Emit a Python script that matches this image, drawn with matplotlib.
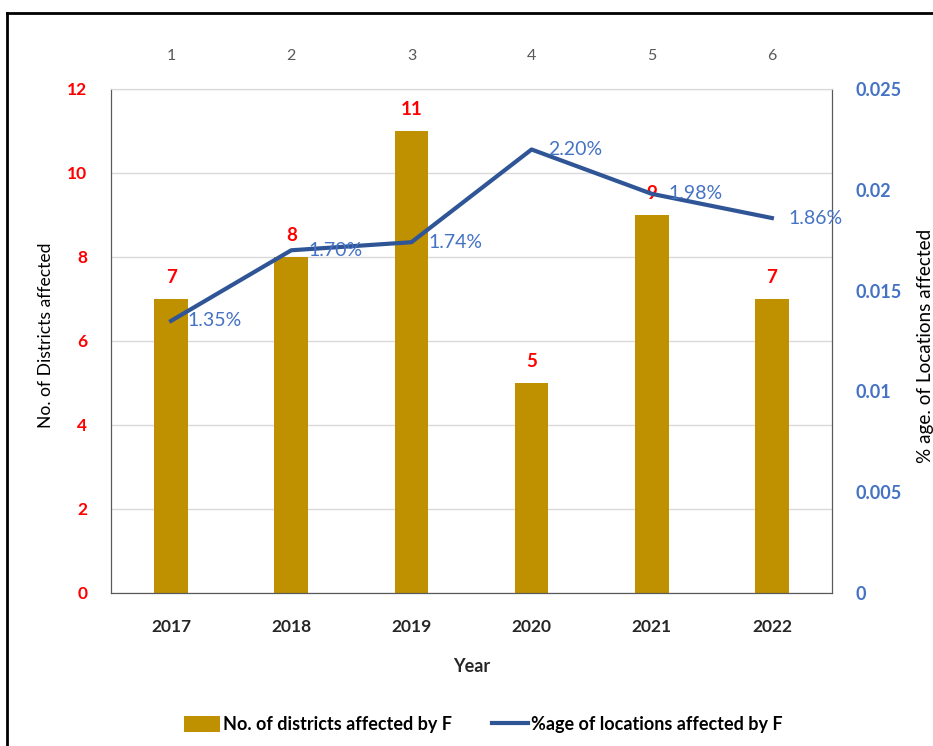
import matplotlib.pyplot as plt
import matplotlib.lines as mlines
import numpy as np

plt.rcParams['font.family'] = ['Lato', 'DejaVu Sans']

years = ['2017', '2018', '2019', '2020', '2021', '2022']
top_ticks = ['1', '2', '3', '4', '5', '6']
districts = [7, 8, 11, 5, 9, 7]
loc_share = [0.0135, 0.0170, 0.0174, 0.0220, 0.0198, 0.0186]
loc_labels = ['1.35%', '1.70%', '1.74%', '2.20%', '1.98%', '1.86%']

bar_col = '#BF9000'
line_col = '#2F5597'
blue_txt = '#4472C4'

fig = plt.figure(figsize=(9.33, 7.46), dpi=100)
ax = fig.add_axes([0.119, 0.2051, 0.7727, 0.6756])
x = np.arange(len(years))

# bars: districts affected
ax.bar(x, districts, width=0.28, color=bar_col, zorder=2,
       label='No. of districts affected by F')
for xi, v in zip(x, districts):
    ax.text(xi, v + 0.3, str(v), color='red', fontsize=13.5, fontweight='bold',
            ha='center', va='bottom', zorder=5)

ax.set_xlim(-0.5, len(years) - 0.5)
ax.set_ylim(0, 12)
ax.set_yticks(range(0, 13, 2))
ax.set_xticks(x)
ax.set_xticklabels(years, fontsize=12.5, fontweight='bold', color='#262626')
ax.tick_params(axis='x', length=0, pad=19)
ax.tick_params(axis='y', length=0, pad=17, labelcolor='red', labelsize=12.5)
for t in ax.get_yticklabels():
    t.set_fontweight('bold')
ax.grid(axis='y', color='#D9D9D9', linewidth=1, zorder=0)
ax.set_xlabel('Year', fontsize=13, fontweight='bold', color='#262626', labelpad=16)
for s in ['left', 'bottom', 'right']:
    ax.spines[s].set_color('#595959')
ax.spines['top'].set_color('#D9D9D9')

# index numbers along the top
top = ax.secondary_xaxis('top')
top.set_xticks(x)
top.set_xticklabels(top_ticks, fontsize=11.5, color='#595959')
top.tick_params(length=0, pad=19)
top.spines['top'].set_visible(False)

# line: share of locations affected
ax2 = ax.twinx()
ax2.plot(x, loc_share, color=line_col, linewidth=3, zorder=3,
         label='%age of locations affected by F')
for xi, v, lab in zip(x, loc_share, loc_labels):
    ax2.text(xi + 0.14, v, lab, color=blue_txt, fontsize=14,
             ha='left', va='center', zorder=5)
ax2.set_ylim(0, 0.025)
ax2.set_yticks(np.arange(0, 0.0251, 0.005))
ax2.set_yticklabels(['0', '0.005', '0.01', '0.015', '0.02', '0.025'])
ax2.tick_params(axis='y', length=0, pad=17, labelcolor=blue_txt, labelsize=13)
for t in ax2.get_yticklabels():
    t.set_fontweight('bold')
for s in ['left', 'bottom', 'right']:
    ax2.spines[s].set_color('#595959')
ax2.spines['top'].set_color('#D9D9D9')

# axis titles
fig.text(46 / 933, 1 - 335 / 746, 'No. of Districts affected', fontsize=12.6,
         rotation=90, ha='center', va='center', color='black')
fig.text(925 / 933, 1 - 346 / 746, '% age. of Locations affected', fontsize=13.6,
         rotation=90, ha='center', va='center', color='black')

h1, l1 = ax.get_legend_handles_labels()
h2, l2 = ax2.get_legend_handles_labels()
fig.legend(h1 + h2, l1 + l2, loc='center', bbox_to_anchor=(0.518, 0.029), ncol=2,
           frameon=False, prop={'size': 13, 'weight': 'bold'},
           handlelength=2.0, handleheight=1.0, handletextpad=0.15,
           columnspacing=2.2)

# outer frame
fig.add_artist(mlines.Line2D([0.008, 0.008], [0, 0.9826], color='black',
                             linewidth=2, transform=fig.transFigure))
fig.add_artist(mlines.Line2D([0.008, 1.0], [0.9826, 0.9826], color='black',
                             linewidth=2, transform=fig.transFigure))

fig.savefig('out.png', dpi=100)
